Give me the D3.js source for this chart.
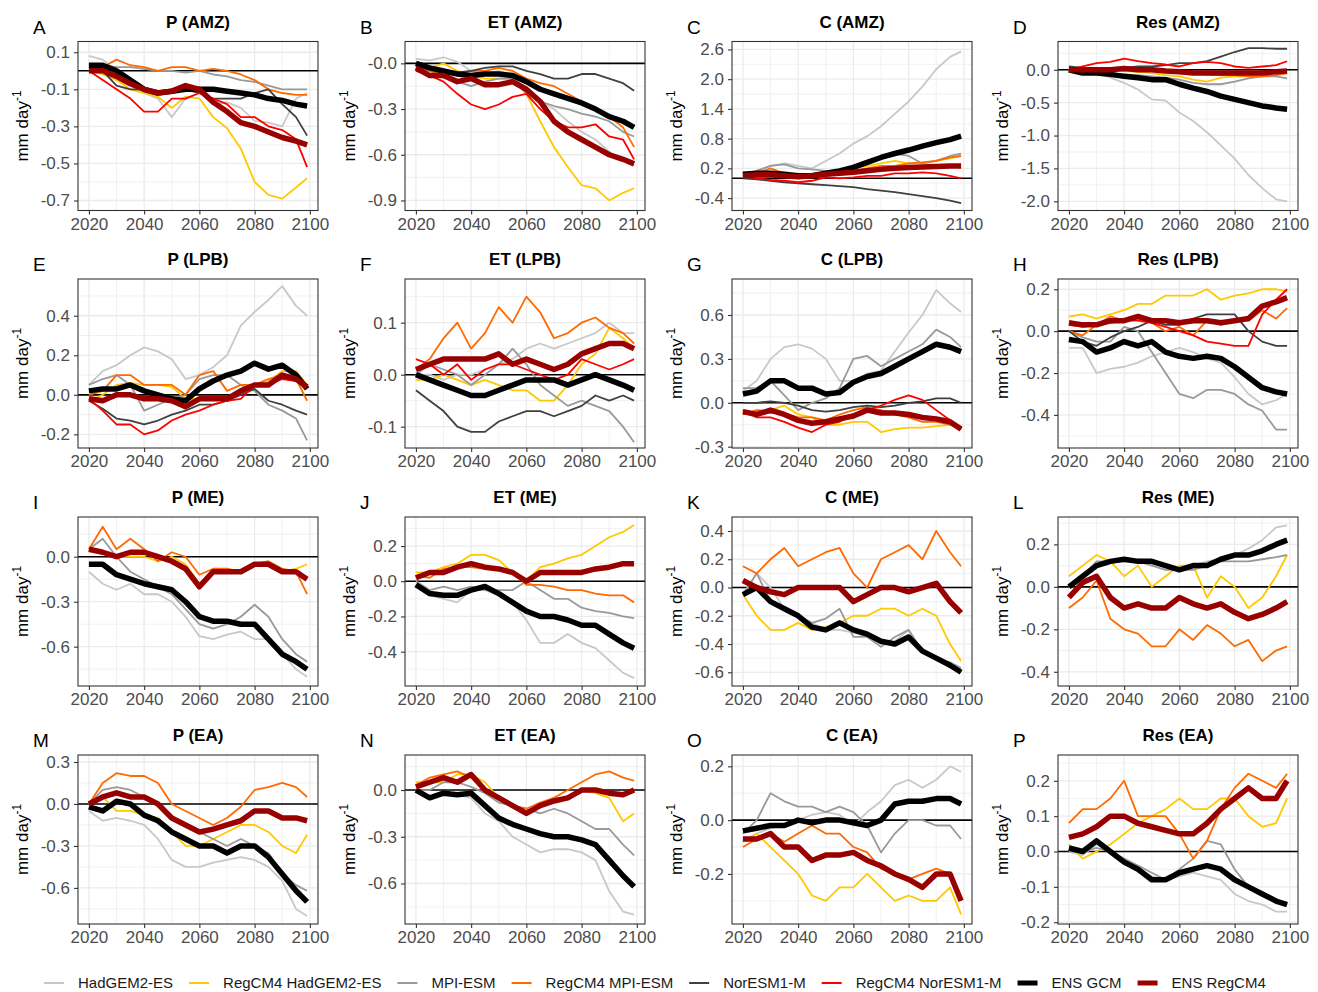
<!DOCTYPE html>
<html><head><meta charset="utf-8">
<script src="https://cdn.jsdelivr.net/npm/d3@7"></script>
<style>body{margin:0;background:#fff} svg{display:block} text{font-family:"Liberation Sans",Arial,Helvetica,sans-serif}</style>
</head><body><svg id="c" width="1318" height="992"></svg>
<script>
// ---------------- DATA ----------------
const years = [2020,2025,2030,2035,2040,2045,2050,2055,2060,2065,2070,2075,2080,2085,2090,2095,2099];
const seriesNames = ["HadGEM2-ES","RegCM4 HadGEM2-ES","MPI-ESM","RegCM4 MPI-ESM","NorESM1-M","RegCM4 NorESM1-M","ENS GCM","ENS RegCM4"];
const panelTitles = ["P (AMZ)","ET (AMZ)","C (AMZ)","Res (AMZ)","P (LPB)","ET (LPB)","C (LPB)","Res (LPB)","P (ME)","ET (ME)","C (ME)","Res (ME)","P (EA)","ET (EA)","C (EA)","Res (EA)"];
const panelLetters = ["A","B","C","D","E","F","G","H","I","J","K","L","M","N","O","P"];
const xTicks = [2020,2040,2060,2080,2100];
const xTickLabels = ["2020","2040","2060","2080","2100"];

// series order: HadGEM2-ES, RegCM4 HadGEM2-ES, MPI-ESM, RegCM4 MPI-ESM, NorESM1-M, RegCM4 NorESM1-M, ENS GCM, ENS RegCM4
const pAMZ = [
 [0.08,0.06,0.0,-0.08,-0.12,-0.15,-0.25,-0.15,-0.12,-0.18,-0.17,-0.2,-0.27,-0.28,-0.3,-0.15,-0.12],
 [0.0,-0.02,-0.05,-0.1,-0.12,-0.14,-0.2,-0.14,-0.15,-0.25,-0.31,-0.42,-0.6,-0.67,-0.69,-0.63,-0.58],
 [0.03,0.03,0.02,0.02,0.01,0.0,0.0,-0.01,0.0,-0.02,-0.03,-0.05,-0.06,-0.08,-0.1,-0.1,-0.1],
 [0.0,0.02,0.06,0.03,0.02,0.0,0.02,0.02,0.0,0.01,0.0,-0.02,-0.05,-0.1,-0.12,-0.13,-0.13],
 [0.02,0.0,-0.08,-0.1,-0.1,-0.12,-0.12,-0.1,-0.12,-0.15,-0.15,-0.15,-0.12,-0.1,-0.18,-0.25,-0.35],
 [0.0,-0.05,-0.1,-0.15,-0.22,-0.22,-0.15,-0.15,-0.12,-0.15,-0.18,-0.25,-0.25,-0.3,-0.32,-0.37,-0.52],
 [0.03,0.03,0.0,-0.05,-0.1,-0.12,-0.11,-0.1,-0.1,-0.1,-0.11,-0.12,-0.13,-0.15,-0.16,-0.18,-0.19],
 [0.0,0.0,-0.03,-0.07,-0.1,-0.12,-0.11,-0.08,-0.1,-0.17,-0.22,-0.28,-0.3,-0.33,-0.36,-0.38,-0.4]
];
const etAMZ = [
 [0.03,0.02,0.04,0.01,-0.05,-0.07,-0.05,-0.08,-0.18,-0.25,-0.3,-0.38,-0.45,-0.5,-0.58,-0.63,-0.67],
 [-0.05,-0.03,0.0,-0.05,-0.08,-0.1,-0.1,-0.1,-0.2,-0.38,-0.55,-0.68,-0.8,-0.82,-0.9,-0.85,-0.82],
 [-0.02,-0.05,-0.08,-0.12,-0.15,-0.12,-0.1,-0.1,-0.2,-0.25,-0.28,-0.3,-0.33,-0.35,-0.38,-0.45,-0.48],
 [-0.03,-0.05,-0.07,-0.07,-0.05,-0.05,-0.03,-0.05,-0.1,-0.13,-0.15,-0.2,-0.25,-0.3,-0.35,-0.42,-0.55],
 [-0.02,-0.03,-0.05,-0.06,-0.05,-0.03,-0.02,-0.02,-0.05,-0.07,-0.1,-0.1,-0.07,-0.07,-0.1,-0.13,-0.18],
 [-0.05,-0.08,-0.12,-0.2,-0.27,-0.3,-0.27,-0.22,-0.2,-0.3,-0.38,-0.42,-0.42,-0.4,-0.48,-0.5,-0.63],
 [0.0,-0.03,-0.05,-0.07,-0.08,-0.07,-0.07,-0.08,-0.12,-0.17,-0.2,-0.23,-0.26,-0.3,-0.35,-0.38,-0.42],
 [-0.03,-0.08,-0.08,-0.12,-0.1,-0.14,-0.14,-0.12,-0.17,-0.25,-0.38,-0.45,-0.5,-0.55,-0.6,-0.63,-0.66]
];
const cAMZ = [
 [0.05,0.15,0.25,0.3,0.25,0.2,0.35,0.5,0.7,0.85,1.05,1.3,1.55,1.85,2.2,2.45,2.56],
 [0.05,0.1,0.1,0.05,0.0,0.02,0.1,0.15,0.2,0.25,0.3,0.35,0.3,0.3,0.35,0.4,0.45],
 [0.05,0.15,0.25,0.28,0.2,0.18,0.15,0.15,0.25,0.3,0.4,0.5,0.45,0.3,0.35,0.45,0.5],
 [0.05,0.1,0.2,0.1,0.05,0.05,0.1,0.12,0.15,0.2,0.25,0.25,0.3,0.32,0.35,0.42,0.45],
 [0.0,-0.02,-0.05,-0.08,-0.1,-0.12,-0.14,-0.16,-0.18,-0.22,-0.25,-0.28,-0.32,-0.36,-0.4,-0.45,-0.5],
 [0.05,0.0,-0.03,-0.05,-0.08,-0.05,0.02,0.0,0.02,0.05,0.05,0.1,0.1,0.12,0.1,0.05,0.0],
 [0.08,0.1,0.1,0.08,0.05,0.05,0.1,0.15,0.22,0.32,0.42,0.5,0.57,0.65,0.72,0.78,0.85],
 [0.05,0.07,0.07,0.05,0.03,0.05,0.08,0.1,0.12,0.15,0.18,0.2,0.22,0.23,0.24,0.25,0.25]
];
const resAMZ = [
 [0.0,-0.03,-0.05,-0.12,-0.2,-0.3,-0.45,-0.47,-0.65,-0.78,-0.95,-1.15,-1.35,-1.6,-1.8,-1.97,-2.0],
 [0.0,-0.02,0.0,0.0,-0.02,-0.03,-0.05,-0.08,-0.1,-0.15,-0.18,-0.12,-0.1,-0.1,-0.1,-0.08,-0.05],
 [0.0,-0.02,-0.03,-0.05,-0.07,-0.08,-0.1,-0.12,-0.15,-0.2,-0.22,-0.22,-0.18,-0.13,-0.1,-0.1,-0.13],
 [0.0,0.02,0.03,0.02,0.0,0.0,0.0,-0.02,-0.02,-0.05,-0.07,-0.08,-0.08,-0.1,-0.1,-0.08,-0.05],
 [0.05,0.03,0.03,0.03,0.03,0.05,0.05,0.07,0.1,0.1,0.13,0.2,0.27,0.33,0.33,0.32,0.32],
 [0.0,0.05,0.1,0.12,0.17,0.13,0.1,0.08,0.05,0.1,0.12,0.1,0.05,0.03,0.05,0.07,0.13],
 [0.0,-0.05,-0.05,-0.07,-0.1,-0.12,-0.15,-0.15,-0.22,-0.28,-0.33,-0.4,-0.45,-0.5,-0.55,-0.58,-0.6],
 [0.0,0.0,0.0,0.0,0.02,0.0,0.0,-0.02,-0.03,-0.05,-0.05,-0.05,-0.05,-0.05,-0.05,-0.03,-0.02]
];
const pLPB = [
 [0.05,0.12,0.15,0.2,0.24,0.22,0.18,0.08,0.1,0.14,0.2,0.35,0.42,0.48,0.55,0.45,0.4],
 [-0.03,0.0,0.05,0.06,0.05,0.05,0.04,-0.02,-0.02,-0.02,-0.03,0.02,0.05,0.07,0.12,0.12,0.05],
 [0.05,0.08,0.1,0.05,-0.08,-0.05,-0.02,0.0,0.08,0.1,0.1,0.05,0.02,-0.05,-0.08,-0.12,-0.23],
 [0.0,0.02,0.1,0.1,0.05,0.05,0.05,0.0,0.1,0.12,0.02,0.05,0.05,0.08,0.1,0.08,-0.03],
 [-0.03,-0.07,-0.12,-0.13,-0.15,-0.13,-0.1,-0.08,-0.05,-0.05,-0.03,0.0,0.03,-0.03,-0.05,-0.08,-0.1],
 [-0.02,-0.08,-0.15,-0.15,-0.2,-0.18,-0.13,-0.1,-0.08,-0.05,-0.03,-0.02,0.05,0.05,0.08,0.07,0.05],
 [0.02,0.03,0.03,0.05,0.02,0.0,-0.02,-0.03,0.03,0.07,0.1,0.12,0.16,0.13,0.15,0.1,0.03],
 [-0.02,-0.03,0.0,0.0,-0.02,-0.02,-0.03,-0.06,-0.02,-0.02,-0.02,0.02,0.05,0.05,0.1,0.08,0.04]
];
const etLPB = [
 [0.0,0.0,-0.01,0.0,0.0,0.01,0.02,0.03,0.05,0.06,0.05,0.06,0.07,0.08,0.1,0.08,0.08],
 [-0.01,-0.01,0.0,-0.01,-0.02,-0.01,-0.02,-0.03,-0.03,-0.05,-0.05,-0.02,0.02,0.04,0.09,0.07,0.05],
 [0.0,0.02,0.01,0.0,-0.02,0.0,0.02,0.05,0.02,-0.02,-0.04,-0.06,-0.05,-0.06,-0.07,-0.1,-0.13],
 [0.01,0.03,0.07,0.1,0.05,0.08,0.13,0.1,0.15,0.12,0.07,0.08,0.1,0.11,0.09,0.08,0.06],
 [-0.03,-0.05,-0.07,-0.1,-0.11,-0.11,-0.09,-0.08,-0.07,-0.07,-0.08,-0.07,-0.06,-0.04,-0.05,-0.04,-0.05],
 [0.03,0.02,0.0,0.02,-0.01,0.01,0.02,0.02,0.01,0.0,-0.01,0.0,0.03,0.02,0.01,0.02,0.03],
 [0.0,-0.01,-0.02,-0.03,-0.04,-0.04,-0.03,-0.02,-0.01,-0.01,-0.01,-0.02,-0.01,0.0,-0.01,-0.02,-0.03],
 [0.01,0.02,0.03,0.03,0.03,0.03,0.04,0.02,0.03,0.02,0.01,0.02,0.04,0.05,0.06,0.06,0.05]
];
const cLPB = [
 [0.08,0.15,0.3,0.38,0.4,0.37,0.3,0.15,0.15,0.2,0.22,0.35,0.48,0.6,0.77,0.68,0.62],
 [-0.08,-0.05,-0.05,-0.02,-0.08,-0.1,-0.15,-0.15,-0.13,-0.13,-0.2,-0.18,-0.17,-0.17,-0.16,-0.15,-0.18],
 [0.1,0.1,0.15,0.05,-0.05,0.0,0.03,0.1,0.3,0.32,0.25,0.3,0.35,0.4,0.5,0.45,0.38],
 [-0.08,-0.05,-0.07,-0.07,-0.1,-0.1,-0.12,-0.08,-0.05,-0.03,-0.05,-0.08,-0.1,-0.13,-0.13,-0.15,-0.18],
 [0.0,0.0,0.01,0.0,-0.02,-0.05,-0.06,-0.05,-0.03,-0.02,-0.03,-0.02,0.0,0.01,0.03,0.03,0.0],
 [-0.05,-0.1,-0.1,-0.13,-0.17,-0.2,-0.15,-0.13,-0.08,-0.05,-0.02,0.02,0.05,0.02,-0.05,-0.12,-0.18],
 [0.06,0.08,0.15,0.15,0.1,0.1,0.06,0.07,0.14,0.18,0.2,0.25,0.3,0.35,0.4,0.38,0.35],
 [-0.06,-0.08,-0.05,-0.08,-0.12,-0.14,-0.13,-0.11,-0.09,-0.05,-0.07,-0.07,-0.08,-0.1,-0.11,-0.13,-0.18]
];
const resLPB = [
 [-0.08,-0.08,-0.2,-0.18,-0.17,-0.15,-0.12,-0.1,-0.08,-0.1,-0.13,-0.15,-0.22,-0.3,-0.35,-0.33,-0.3],
 [0.07,0.08,0.06,0.08,0.1,0.13,0.13,0.17,0.17,0.17,0.2,0.15,0.17,0.18,0.2,0.2,0.19],
 [0.0,-0.03,-0.05,-0.05,0.02,0.0,-0.1,-0.2,-0.3,-0.32,-0.28,-0.28,-0.3,-0.35,-0.38,-0.47,-0.47],
 [0.0,-0.02,0.03,0.07,0.05,0.06,0.04,0.0,0.02,-0.02,0.05,0.03,0.05,0.05,0.1,0.06,0.11],
 [0.0,-0.05,-0.07,-0.03,0.0,0.02,0.05,0.03,0.03,0.06,0.08,0.08,0.08,0.0,-0.05,-0.07,-0.07],
 [0.03,0.02,0.03,0.04,0.05,0.05,0.04,0.02,0.0,-0.02,-0.05,-0.06,-0.07,-0.07,0.08,0.15,0.2],
 [-0.04,-0.05,-0.1,-0.08,-0.05,-0.07,-0.05,-0.1,-0.12,-0.13,-0.12,-0.13,-0.17,-0.22,-0.27,-0.29,-0.3],
 [0.04,0.03,0.03,0.05,0.05,0.07,0.05,0.05,0.04,0.05,0.05,0.04,0.05,0.06,0.12,0.14,0.16]
];
const pME = [
 [-0.1,-0.18,-0.22,-0.18,-0.25,-0.25,-0.3,-0.4,-0.53,-0.55,-0.52,-0.5,-0.55,-0.55,-0.65,-0.75,-0.8],
 [0.05,0.02,0.0,0.0,0.0,-0.03,0.0,-0.05,-0.18,-0.1,-0.1,-0.1,-0.05,-0.05,-0.1,-0.08,-0.05],
 [0.05,0.12,0.0,-0.1,-0.15,-0.2,-0.25,-0.35,-0.45,-0.48,-0.45,-0.4,-0.32,-0.4,-0.55,-0.65,-0.7],
 [0.05,0.2,0.05,0.12,0.05,-0.03,0.03,0.0,-0.12,-0.08,-0.08,-0.1,-0.05,-0.03,-0.08,-0.1,-0.25],
 null, null,
 [-0.05,-0.05,-0.12,-0.15,-0.18,-0.2,-0.22,-0.3,-0.4,-0.43,-0.43,-0.45,-0.45,-0.55,-0.65,-0.7,-0.75],
 [0.05,0.03,0.0,0.03,0.03,0.0,-0.03,-0.08,-0.2,-0.1,-0.1,-0.1,-0.05,-0.05,-0.1,-0.1,-0.15]
];
const etME = [
 [-0.02,-0.08,-0.1,-0.12,-0.05,-0.05,-0.08,-0.12,-0.22,-0.35,-0.35,-0.3,-0.35,-0.38,-0.45,-0.52,-0.55],
 [0.05,0.05,0.08,0.1,0.15,0.15,0.12,0.05,0.0,0.08,0.1,0.13,0.15,0.2,0.25,0.28,0.32],
 [0.0,-0.05,-0.03,-0.05,-0.03,-0.05,-0.05,-0.05,0.0,-0.05,-0.1,-0.1,-0.15,-0.17,-0.18,-0.2,-0.21],
 [0.03,0.02,0.07,0.08,0.08,0.07,0.07,0.05,-0.02,-0.02,-0.03,-0.05,-0.05,-0.07,-0.08,-0.08,-0.12],
 null, null,
 [-0.02,-0.07,-0.08,-0.08,-0.05,-0.03,-0.07,-0.12,-0.17,-0.2,-0.2,-0.22,-0.25,-0.25,-0.3,-0.35,-0.38],
 [0.02,0.05,0.05,0.08,0.1,0.08,0.07,0.05,0.0,0.05,0.05,0.05,0.05,0.07,0.08,0.1,0.1]
];
const cME = [
 [-0.05,0.1,0.0,-0.15,-0.2,-0.25,-0.3,-0.3,-0.32,-0.35,-0.4,-0.38,-0.3,-0.45,-0.5,-0.55,-0.58],
 [-0.05,-0.2,-0.3,-0.3,-0.25,-0.3,-0.28,-0.25,-0.2,-0.2,-0.15,-0.15,-0.2,-0.15,-0.2,-0.4,-0.52],
 [-0.05,0.1,-0.1,-0.15,-0.2,-0.25,-0.22,-0.15,-0.35,-0.35,-0.42,-0.35,-0.3,-0.45,-0.5,-0.53,-0.57],
 [0.15,0.1,0.2,0.28,0.15,0.2,0.25,0.28,0.1,0.0,0.2,0.25,0.3,0.2,0.4,0.25,0.15],
 null, null,
 [-0.05,0.0,-0.1,-0.15,-0.2,-0.28,-0.3,-0.25,-0.3,-0.33,-0.38,-0.4,-0.35,-0.45,-0.5,-0.55,-0.6],
 [0.05,0.0,-0.03,-0.05,0.0,0.0,0.0,0.0,-0.1,-0.05,0.0,0.0,-0.03,0.0,0.03,-0.1,-0.18]
];
const resME = [
 [0.0,0.05,0.1,0.12,0.13,0.13,0.12,0.1,0.08,0.1,0.12,0.13,0.15,0.18,0.22,0.28,0.29],
 [0.05,0.1,0.15,0.12,0.05,0.1,0.0,0.05,0.1,0.1,-0.05,0.05,0.0,-0.1,-0.05,0.05,0.15],
 [0.0,0.05,0.12,0.12,0.12,0.12,0.1,0.08,0.08,0.08,0.1,0.12,0.12,0.12,0.13,0.14,0.15],
 [-0.1,-0.05,0.03,-0.15,-0.2,-0.22,-0.28,-0.28,-0.2,-0.25,-0.18,-0.22,-0.28,-0.25,-0.35,-0.3,-0.28],
 null, null,
 [0.0,0.05,0.1,0.12,0.13,0.12,0.12,0.1,0.08,0.1,0.1,0.13,0.15,0.15,0.17,0.2,0.22],
 [-0.05,0.02,0.05,-0.05,-0.1,-0.08,-0.1,-0.1,-0.05,-0.08,-0.1,-0.08,-0.12,-0.15,-0.13,-0.1,-0.07]
];
const pEA = [
 [-0.05,-0.12,-0.1,-0.12,-0.15,-0.25,-0.4,-0.45,-0.45,-0.42,-0.4,-0.38,-0.4,-0.45,-0.55,-0.75,-0.8],
 [0.0,0.05,-0.05,-0.05,-0.08,-0.1,-0.2,-0.3,-0.3,-0.25,-0.2,-0.15,-0.15,-0.2,-0.3,-0.35,-0.22],
 [0.0,0.1,0.12,0.1,0.05,0.0,-0.1,-0.15,-0.2,-0.25,-0.3,-0.25,-0.3,-0.35,-0.5,-0.58,-0.62],
 [0.0,0.15,0.22,0.2,0.2,0.15,0.0,-0.05,-0.1,-0.15,-0.1,-0.02,0.1,0.12,0.15,0.12,0.05],
 null, null,
 [-0.02,-0.05,0.02,0.0,-0.08,-0.12,-0.2,-0.25,-0.3,-0.3,-0.35,-0.3,-0.3,-0.38,-0.5,-0.62,-0.7],
 [0.0,0.05,0.08,0.05,0.05,0.0,-0.1,-0.15,-0.2,-0.18,-0.15,-0.12,-0.05,-0.05,-0.1,-0.1,-0.12]
];
const etEA = [
 [0.0,-0.05,-0.02,-0.03,-0.05,-0.15,-0.2,-0.3,-0.35,-0.4,-0.38,-0.38,-0.4,-0.45,-0.65,-0.78,-0.8],
 [0.05,0.05,0.05,0.1,0.1,0.05,-0.05,-0.1,-0.15,-0.1,-0.05,-0.05,0.0,-0.02,-0.05,-0.2,-0.15],
 [0.0,0.0,0.05,0.05,0.02,-0.02,-0.08,-0.1,-0.12,-0.15,-0.12,-0.15,-0.2,-0.25,-0.25,-0.35,-0.42],
 [0.03,0.08,0.1,0.12,0.08,0.0,-0.05,-0.1,-0.12,-0.08,-0.05,0.0,0.05,0.1,0.12,0.08,0.06],
 null, null,
 [0.0,-0.05,-0.02,-0.03,-0.02,-0.1,-0.18,-0.22,-0.25,-0.28,-0.3,-0.3,-0.32,-0.35,-0.45,-0.55,-0.62],
 [0.02,0.05,0.08,0.05,0.1,0.0,-0.05,-0.1,-0.15,-0.1,-0.07,-0.05,0.0,0.0,-0.02,-0.03,0.0]
];
const cEA = [
 [-0.08,-0.05,-0.03,-0.02,0.0,0.02,0.03,0.02,-0.02,0.03,0.07,0.13,0.15,0.12,0.15,0.2,0.18],
 [-0.08,-0.05,-0.1,-0.15,-0.2,-0.28,-0.3,-0.25,-0.25,-0.2,-0.25,-0.3,-0.28,-0.3,-0.3,-0.25,-0.35],
 [-0.05,0.0,0.1,0.07,0.05,0.05,0.03,0.05,0.03,-0.02,-0.12,-0.05,0.0,0.0,-0.02,-0.02,-0.07],
 [-0.1,-0.07,-0.05,-0.08,-0.05,-0.02,-0.05,-0.05,-0.1,-0.12,-0.18,-0.2,-0.22,-0.2,-0.18,-0.2,-0.3],
 null, null,
 [-0.04,-0.03,-0.02,-0.02,0.0,-0.01,0.0,0.0,-0.01,-0.02,0.0,0.06,0.07,0.07,0.08,0.08,0.06],
 [-0.07,-0.07,-0.05,-0.1,-0.1,-0.15,-0.13,-0.13,-0.12,-0.15,-0.17,-0.2,-0.22,-0.25,-0.2,-0.2,-0.3]
];
const resEA = [
 [0.0,-0.01,0.02,0.0,-0.02,-0.05,-0.07,-0.08,-0.07,-0.06,-0.07,-0.08,-0.12,-0.14,-0.15,-0.17,-0.17],
 [0.02,-0.02,0.0,0.02,0.05,0.08,0.1,0.12,0.15,0.12,0.12,0.15,0.15,0.1,0.07,0.08,0.15],
 [0.0,0.0,0.01,0.0,-0.02,-0.04,-0.06,-0.08,-0.05,-0.02,0.03,0.02,-0.05,-0.1,-0.12,-0.14,-0.15],
 [0.08,0.12,0.12,0.15,0.2,0.1,0.1,0.1,0.05,-0.02,0.03,0.12,0.18,0.22,0.2,0.18,0.22],
 null, null,
 [0.01,0.0,0.03,0.0,-0.03,-0.05,-0.08,-0.08,-0.06,-0.05,-0.04,-0.05,-0.08,-0.1,-0.12,-0.14,-0.15],
 [0.04,0.05,0.07,0.1,0.1,0.08,0.07,0.06,0.05,0.05,0.08,0.12,0.15,0.18,0.15,0.15,0.2]
];

const yLimits = [
 [-0.754,0.158],[-0.966,0.1435],[-0.65,2.76],[-2.14,0.43],
 [-0.269,0.586],[-0.141,0.184],[-0.309,0.846],[-0.558,0.249],
 [-0.862,0.265],[-0.595,0.365],[-0.697,0.499],[-0.467,0.329],
 [-0.858,0.35],[-0.86,0.225],[-0.386,0.242],[-0.205,0.273]
];
const yTicks = [
 [0.1,-0.1,-0.3,-0.5,-0.7],[0,-0.3,-0.6,-0.9],[2.6,2.0,1.4,0.8,0.2,-0.4],[0,-0.5,-1,-1.5,-2],
 [0.4,0.2,0,-0.2],[0.1,0,-0.1],[0.6,0.3,0,-0.3],[0.2,0,-0.2,-0.4],
 [0,-0.3,-0.6],[0.2,0,-0.2,-0.4],[0.4,0.2,0,-0.2,-0.4,-0.6],[0.2,0,-0.2,-0.4],
 [0.3,0,-0.3,-0.6],[0,-0.3,-0.6],[0.2,0,-0.2],[0.2,0.1,0,-0.1,-0.2]
];
const yTickLabels = [
 ["0.1","-0.1","-0.3","-0.5","-0.7"],["-0.0","-0.3","-0.6","-0.9"],["2.6","2.0","1.4","0.8","0.2","-0.4"],["0.0","-0.5","-1.0","-1.5","-2.0"],
 ["0.4","0.2","0.0","-0.2"],["0.1","0.0","-0.1"],["0.6","0.3","0.0","-0.3"],["0.2","0.0","-0.2","-0.4"],
 ["0.0","-0.3","-0.6"],["0.2","0.0","-0.2","-0.4"],["0.4","0.2","0.0","-0.2","-0.4","-0.6"],["0.2","0.0","-0.2","-0.4"],
 ["0.3","0.0","-0.3","-0.6"],["0.0","-0.3","-0.6"],["0.2","0.0","-0.2"],["0.2","0.1","0.0","-0.1","-0.2"]
];
const panelData = [pAMZ,etAMZ,cAMZ,resAMZ,pLPB,etLPB,cLPB,resLPB,pME,etME,cME,resME,pEA,etEA,cEA,resEA];

// ---------------- STYLE / LAYOUT ----------------
const seriesColors = ["#C8C8C8","#FFC800","#999999","#FF6A00","#404040","#FF0000","#000000","#990000"];
const seriesWidths = [1.8,1.8,1.8,1.8,1.8,1.8,5.5,5.5];
const colLeft = [78,405,732,1058], rowTop = [41.5,279,517,755], PW = 240, PH = 169;

const svg = d3.select("#c");
svg.append("rect").attr("width",1318).attr("height",992).attr("fill","#fff");
const x = d3.scaleLinear().domain([2016.05,2102.95]).range([0,PW]);
const minorX = [2030,2050,2070,2090];

panelData.forEach((data,i)=>{
  const col = i%4, row = Math.floor(i/4);
  const g = svg.append("g").attr("transform",`translate(${colLeft[col]},${rowTop[row]})`);
  const lim = yLimits[i];
  const y = d3.scaleLinear().domain(lim).range([PH,0]);
  const yt = yTicks[i];
  const step = Math.abs(yt[0]-yt[1]);
  const sorted = [...yt].sort((a,b)=>a-b);
  const minorY = [];
  for(let k=-1;k<sorted.length;k++){
    const v = k<0 ? sorted[0]-step/2 : sorted[k]+step/2;
    if(v>lim[0] && v<lim[1]) minorY.push(v);
  }
  const clipId = "clip"+i;
  g.append("clipPath").attr("id",clipId).append("rect").attr("width",PW).attr("height",PH);
  const grid = g.append("g");
  grid.selectAll(".mx").data(minorX).join("line").attr("x1",d=>x(d)).attr("x2",d=>x(d)).attr("y1",0).attr("y2",PH).attr("stroke","#EBEBEB").attr("stroke-width",0.7);
  grid.selectAll(".my").data(minorY).join("line").attr("y1",d=>y(d)).attr("y2",d=>y(d)).attr("x1",0).attr("x2",PW).attr("stroke","#EBEBEB").attr("stroke-width",0.7);
  grid.selectAll(".Mx").data(xTicks).join("line").attr("x1",d=>x(d)).attr("x2",d=>x(d)).attr("y1",0).attr("y2",PH).attr("stroke","#EBEBEB").attr("stroke-width",1.3);
  grid.selectAll(".My").data(yt).join("line").attr("y1",d=>y(d)).attr("y2",d=>y(d)).attr("x1",0).attr("x2",PW).attr("stroke","#EBEBEB").attr("stroke-width",1.3);

  const plot = g.append("g").attr("clip-path",`url(#${clipId})`);
  plot.append("line").attr("x1",0).attr("x2",PW).attr("y1",y(0)).attr("y2",y(0)).attr("stroke","#000").attr("stroke-width",1.6);
  const line = d3.line().x((d,j)=>x(years[j])).y(d=>y(d));
  data.forEach((s,k)=>{
    if(!s) return;
    plot.append("path").attr("d",line(s)).attr("fill","none")
      .attr("stroke",seriesColors[k]).attr("stroke-width",seriesWidths[k])
      .attr("stroke-linejoin","round").attr("stroke-linecap","butt");
  });

  g.append("rect").attr("width",PW).attr("height",PH).attr("fill","none").attr("stroke","#333").attr("stroke-width",1.1);

  const ax = g.append("g").call(d3.axisLeft(y).tickValues(yt).tickFormat((d,j)=>yTickLabels[i][j]).tickSize(4).tickPadding(4));
  const bx = g.append("g").attr("transform",`translate(0,${PH})`).call(d3.axisBottom(x).tickValues(xTicks).tickFormat((d,j)=>xTickLabels[j]).tickSize(4).tickPadding(3));
  [ax,bx].forEach(a=>{
    a.select(".domain").remove();
    a.selectAll("line").attr("stroke","#333").attr("stroke-width",1.1);
    a.selectAll("text").attr("fill","#4D4D4D").style("font-size","17px").style("font-family",'"Liberation Sans",Arial,sans-serif');
  });

  g.append("text").attr("x",PW/2).attr("y",-14).attr("text-anchor","middle")
    .style("font-size","17px").style("font-weight","bold").attr("fill","#000").text(panelTitles[i]);
  g.append("text").attr("x",-45).attr("y",-8).style("font-size","19px").attr("fill","#000").text(panelLetters[i]);
  const yl = g.append("text").attr("transform",`translate(-50,${PH/2}) rotate(-90)`).attr("text-anchor","middle")
    .style("font-size","17px").attr("fill","#000");
  yl.append("tspan").text("mm day");
  yl.append("tspan").attr("dy",-7).style("font-size","12px").text("-1");
});

// legend
const leg = svg.append("g");
let lx = 44; const ly = 983;
seriesNames.forEach((name,k)=>{
  leg.append("line").attr("x1",lx).attr("x2",lx+20).attr("y1",ly).attr("y2",ly)
    .attr("stroke",seriesColors[k]).attr("stroke-width",k>=6?5:2);
  const t = leg.append("text").attr("x",lx+34).attr("y",ly).attr("dy","0.35em")
    .style("font-size","15px").attr("fill","#1A1A1A").text(name);
  lx += 34 + t.node().getComputedTextLength() + 16;
});
</script></body></html>
